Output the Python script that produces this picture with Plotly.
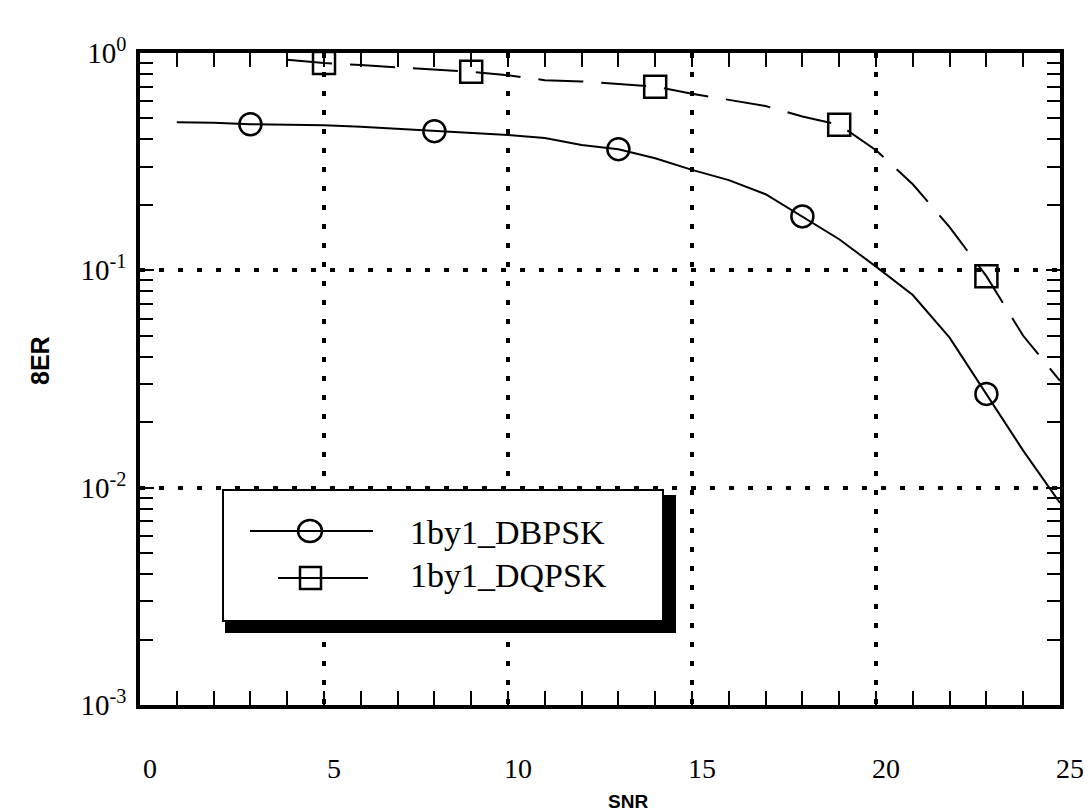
import plotly.graph_objects as go

# ---------------- data ----------------
snr_dbpsk = list(range(1, 26))
ber_dbpsk = [0.48, 0.478, 0.47, 0.468, 0.465, 0.458, 0.448, 0.437, 0.43, 0.42,
             0.406, 0.377, 0.361, 0.328, 0.29, 0.26, 0.224, 0.177, 0.139, 0.104,
             0.077, 0.049, 0.027, 0.0148, 0.0085]
marker_snr_dbpsk = [3, 8, 13, 18, 23]

snr_dqpsk = list(range(4, 26))
ber_dqpsk = [0.93, 0.90, 0.88, 0.86, 0.84, 0.82, 0.79, 0.75, 0.74, 0.72, 0.70,
             0.65, 0.61, 0.57, 0.51, 0.467, 0.357, 0.249, 0.158, 0.094, 0.05, 0.031]
marker_snr_dqpsk = [5, 9, 14, 19, 23]

series_names = ["1by1_DBPSK", "1by1_DQPSK"]
x_tick_vals = [0, 5, 10, 15, 20, 25]
y_tick_vals = [1e-3, 1e-2, 1e-1, 1]
y_tick_text = ["10<sup>-3</sup>", "10<sup>-2</sup>", "10<sup>-1</sup>", "10<sup>0</sup>"]
x_title = "SNR"
y_title = "8ER"

# ---------------- layout geometry ----------------
W, H = 1091, 811
L, R, T, B = 132, 39, 45, 114
PW, PH = W - L - R, H - T - B

def px(xp):
    return (xp - L) / PW

def py(yp):
    return (H - B - yp) / PH

SERIF = "Liberation Serif, Times New Roman, serif"
SANS = "Liberation Sans, Arial, sans-serif"

fig = go.Figure()

def pick(xs, ys, sel):
    d = dict(zip(xs, ys))
    return [d[s] for s in sel]

# DBPSK line + markers
fig.add_trace(go.Scatter(x=snr_dbpsk, y=ber_dbpsk, mode="lines",
                         line=dict(color="black", width=2), name=series_names[0],
                         showlegend=False))
fig.add_trace(go.Scatter(x=marker_snr_dbpsk, y=pick(snr_dbpsk, ber_dbpsk, marker_snr_dbpsk),
                         mode="markers",
                         marker=dict(symbol="circle-open", size=22, color="black",
                                     line=dict(width=2.5, color="black")),
                         showlegend=False))
# DQPSK line + markers
fig.add_trace(go.Scatter(x=snr_dqpsk, y=ber_dqpsk, mode="lines",
                         line=dict(color="black", width=2, dash="45px,18px"),
                         name=series_names[1], showlegend=False))
fig.add_trace(go.Scatter(x=marker_snr_dqpsk, y=pick(snr_dqpsk, ber_dqpsk, marker_snr_dqpsk),
                         mode="markers",
                         marker=dict(symbol="square-open", size=22, color="black",
                                     line=dict(width=2.5, color="black")),
                         showlegend=False))

y_minor = [m * 10 ** e for e in (-3, -2, -1) for m in range(2, 10)]

fig.update_xaxes(range=[0, 25], tickvals=x_tick_vals, ticks="inside", ticklen=14,
                 tickwidth=2, tickcolor="black", showline=True, linewidth=3.5,
                 linecolor="black", mirror="ticks", showgrid=True, gridcolor="black",
                 gridwidth=4, griddash="5px,14px", zeroline=False,
                 tickfont=dict(family=SERIF, size=28, color="black"),
                 ticklabelstandoff=36, ticklabelshift=10,
                 minor=dict(dtick=1, ticks="inside", ticklen=14, tickwidth=2,
                            tickcolor="black", showgrid=False))
fig.update_yaxes(type="log", range=[-3, 0], tickvals=y_tick_vals, ticktext=y_tick_text,
                 ticks="inside", ticklen=14, tickwidth=2, tickcolor="black",
                 showline=True, linewidth=3.5, linecolor="black", mirror="ticks",
                 showgrid=True, gridcolor="black", gridwidth=4, griddash="5px,14px",
                 zeroline=False, tickfont=dict(family=SERIF, size=29, color="black"),
                 ticklabelstandoff=4,
                 minor=dict(tickvals=y_minor, ticks="inside", ticklen=13, tickwidth=2,
                            tickcolor="black", showgrid=False))

shapes = []
# legend shadow + box
shapes.append(dict(type="rect", xref="paper", yref="paper", layer="above",
                   x0=px(217), x1=px(668), y0=py(625), y1=py(487),
                   fillcolor="black", line=dict(width=0)))
shapes.append(dict(type="rect", xref="paper", yref="paper", layer="above",
                   x0=px(215), x1=px(655), y0=py(613), y1=py(482),
                   fillcolor="white", line=dict(color="black", width=2)))
# legend samples
shapes.append(dict(type="line", xref="paper", yref="paper", layer="above",
                   x0=px(242), x1=px(365), y0=py(523), y1=py(523),
                   line=dict(color="black", width=2)))
shapes.append(dict(type="circle", xref="paper", yref="paper", layer="above",
                   x0=px(290), x1=px(314), y0=py(534), y1=py(512),
                   fillcolor="rgba(0,0,0,0)", line=dict(color="black", width=2.5)))
shapes.append(dict(type="line", xref="paper", yref="paper", layer="above",
                   x0=px(270), x1=px(360), y0=py(570), y1=py(570),
                   line=dict(color="black", width=2)))
shapes.append(dict(type="rect", xref="paper", yref="paper", layer="above",
                   x0=px(292), x1=px(313), y0=py(581), y1=py(559),
                   fillcolor="rgba(0,0,0,0)", line=dict(color="black", width=2.5)))

annotations = [
    dict(text=series_names[0], xref="paper", yref="paper", x=px(400), y=py(524),
         xanchor="left", yanchor="middle", showarrow=False,
         font=dict(family=SERIF, size=34, color="black")),
    dict(text=series_names[1], xref="paper", yref="paper", x=px(400), y=py(567),
         xanchor="left", yanchor="middle", showarrow=False,
         font=dict(family=SERIF, size=34, color="black")),
    dict(text=x_title, xref="paper", yref="paper", x=px(620), y=py(793),
         xanchor="center", yanchor="middle", showarrow=False,
         font=dict(family=SANS, size=19, color="black", weight="bold")),
    dict(text=y_title, xref="paper", yref="paper", x=px(32), y=py(353),
         xanchor="center", yanchor="middle", showarrow=False, textangle=-90,
         font=dict(family=SANS, size=25, color="black", weight="bold")),
]

fig.update_layout(width=W, height=H, margin=dict(l=L, r=R, t=T, b=B),
                  paper_bgcolor="white", plot_bgcolor="white",
                  shapes=shapes, annotations=annotations, showlegend=False)

fig.write_html("out.html")
